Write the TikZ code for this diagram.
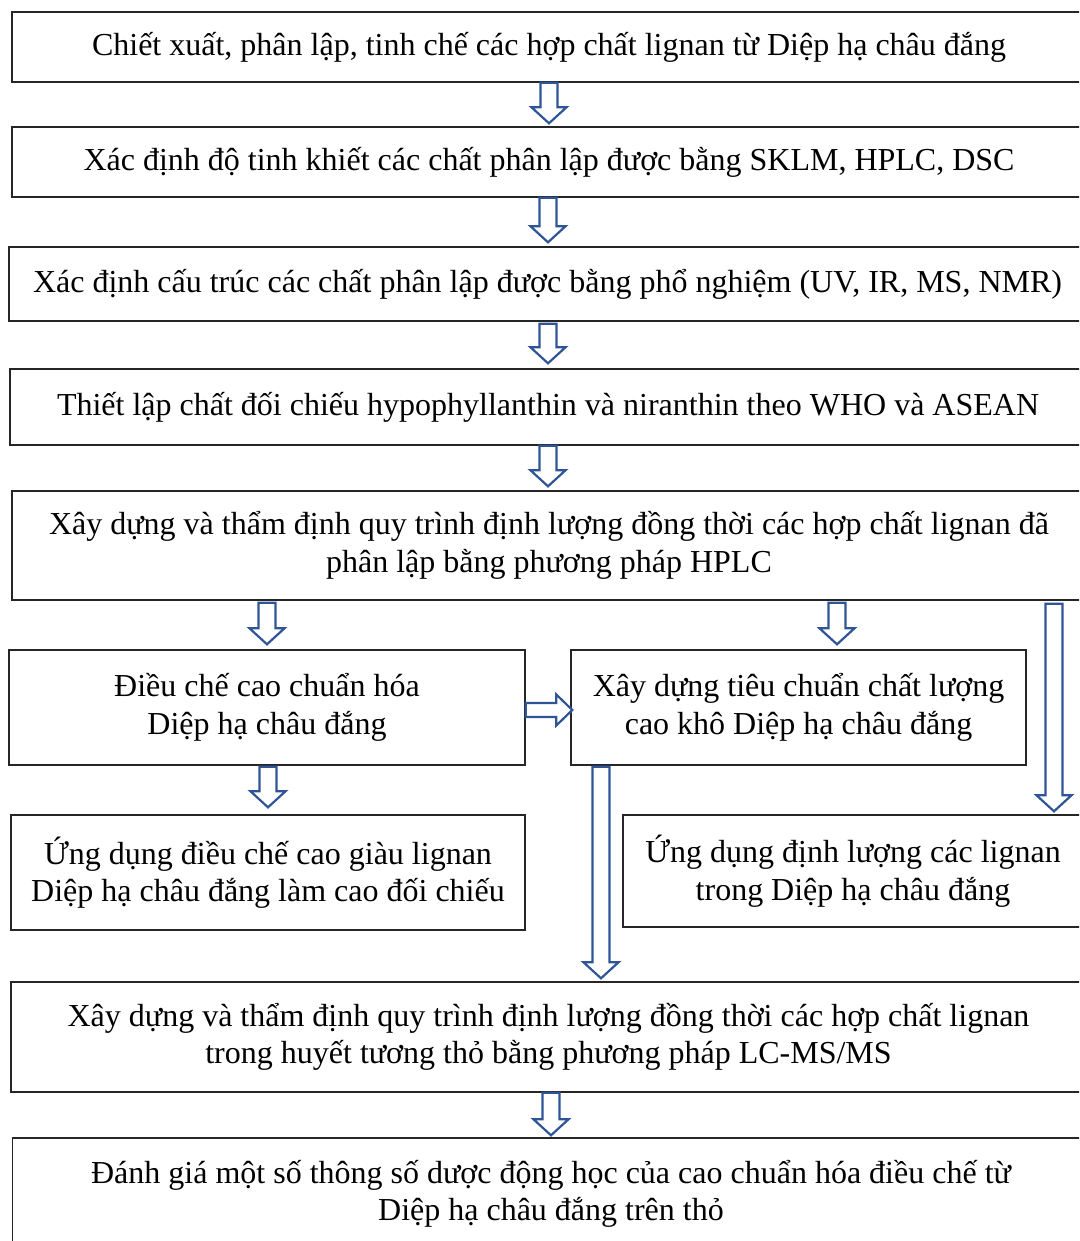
\documentclass[tikz,border=0pt]{standalone}
\usepackage{fontspec}
\setmainfont{Liberation Serif}
\usetikzlibrary{calc}
\definecolor{arrowblue}{HTML}{2F5597}
\definecolor{boxline}{HTML}{262626}
\tikzset{
  stepbox/.style={draw=boxline, line width=1.4pt, fill=white, inner sep=0pt,
    align=center, font=\fontsize{32}{37.5}\selectfont},
  blockdown/.style={draw=arrowblue, line width=2.2pt, fill=white, line join=miter,
    to path={let \p1=(\tikztostart), \p2=(\tikztotarget) in
      (\x1-8.5pt,\y1) -- (\x1+8.5pt,\y1) -- (\x1+8.5pt,\y2+16pt) -- (\x1+17.5pt,\y2+16pt)
      -- (\x1,\y2) -- (\x1-17.5pt,\y2+16pt) -- (\x1-8.5pt,\y2+16pt) -- cycle}},
  blockright/.style={draw=arrowblue, line width=2.2pt, fill=white, line join=miter,
    to path={let \p1=(\tikztostart), \p2=(\tikztotarget) in
      (\x1,\y1+7pt) -- (\x2-16pt,\y1+7pt) -- (\x2-16pt,\y1+15.5pt) -- (\x2,\y1)
      -- (\x2-16pt,\y1-15.5pt) -- (\x2-16pt,\y1-7pt) -- (\x1,\y1-7pt) -- cycle}}
}
\begin{document}
\begin{tikzpicture}[x=1pt,y=-1pt]
\useasboundingbox (0,0) rectangle (1079,1241);
\clip (0,0) rectangle (1079,1241);

% process steps
\node[stepbox, minimum width=1074, minimum height=70] (b1) at (549,47)
  {Chiết xuất, phân lập, tinh chế các hợp chất lignan từ Diệp hạ châu đắng};
\node[stepbox, minimum width=1074, minimum height=70] (b2) at (549,162)
  {Xác định độ tinh khiết các chất phân lập được bằng SKLM, HPLC, DSC};
\node[stepbox, minimum width=1077, minimum height=74] (b3) at (547.5,284)
  {Xác định cấu trúc các chất phân lập được bằng phổ nghiệm (UV, IR, MS, NMR)};
\node[stepbox, minimum width=1076, minimum height=76] (b4) at (548,407)
  {Thiết lập chất đối chiếu hypophyllanthin và niranthin theo WHO và ASEAN};
\node[stepbox, minimum width=1074, minimum height=109] (b5) at (549,545.5)
  {Xây dựng và thẩm định quy trình định lượng đồng thời các hợp chất lignan đã\\
   phân lập bằng phương pháp HPLC};
\node[stepbox, minimum width=516, minimum height=115] (b6) at (267,707.5)
  {Điều chế cao chuẩn hóa\\Diệp hạ châu đắng};
\node[stepbox, minimum width=455, minimum height=115] (b7) at (798.5,707.5)
  {Xây dựng tiêu chuẩn chất lượng\\cao khô Diệp hạ châu đắng};
\node[stepbox, minimum width=514, minimum height=115] (b8) at (268,872.5)
  {Ứng dụng điều chế cao giàu lignan\\Diệp hạ châu đắng làm cao đối chiếu};
\node[stepbox, minimum width=460, minimum height=112] (b9) at (853,871)
  {Ứng dụng định lượng các lignan\\trong Diệp hạ châu đắng};
\node[stepbox, minimum width=1075, minimum height=110] (b10) at (548.5,1037)
  {Xây dựng và thẩm định quy trình định lượng đồng thời các hợp chất lignan\\
   trong huyết tương thỏ bằng phương pháp LC-MS/MS};
\node[stepbox, minimum width=1077, minimum height=112] (b11) at (551,1194)
  {Đánh giá một số thông số dược động học của cao chuẩn hóa điều chế từ\\
   Diệp hạ châu đắng trên thỏ};

% block arrows between steps
\draw[blockdown] (b1.south) to ($(b2.north)+(0,-3)$);
\draw[blockdown] ($(b2.south)+(-1,0)$) to ($(b3.north)+(0.5,-4)$);
\draw[blockdown] ($(b3.south)+(0.5,2)$) to ($(b4.north)+(0,-5)$);
\draw[blockdown] ($(b4.south)+(0,0)$) to ($(b5.north)+(-1,-4)$);
\draw[blockdown] ($(b6.north |- b5.south)+(0,2)$) to ($(b6.north)+(0,-5)$);
\draw[blockdown] ($(b7.north |- b5.south)+(38.5,2)$) to ($(b7.north)+(38.5,-5)$);
\draw[blockdown] ($(b5.south)+(505,3)$) to ($(b9.north)+(201,-3)$);
\draw[blockright] ($(b6.east)+(0,2.5)$) to ($(b7.west)+(2,2.5)$);
\draw[blockdown] ($(b8.north |- b6.south)+(0,1)$) to ($(b8.north)+(0,-7)$);
\draw[blockdown] ($(b7.south)+(-197.5,1)$) to ($(b10.north)+(52.5,-3)$);
\draw[blockdown] ($(b10.south)+(2.5,0)$) to ($(b11.north)+(0,-2)$);
\end{tikzpicture}
\end{document}
